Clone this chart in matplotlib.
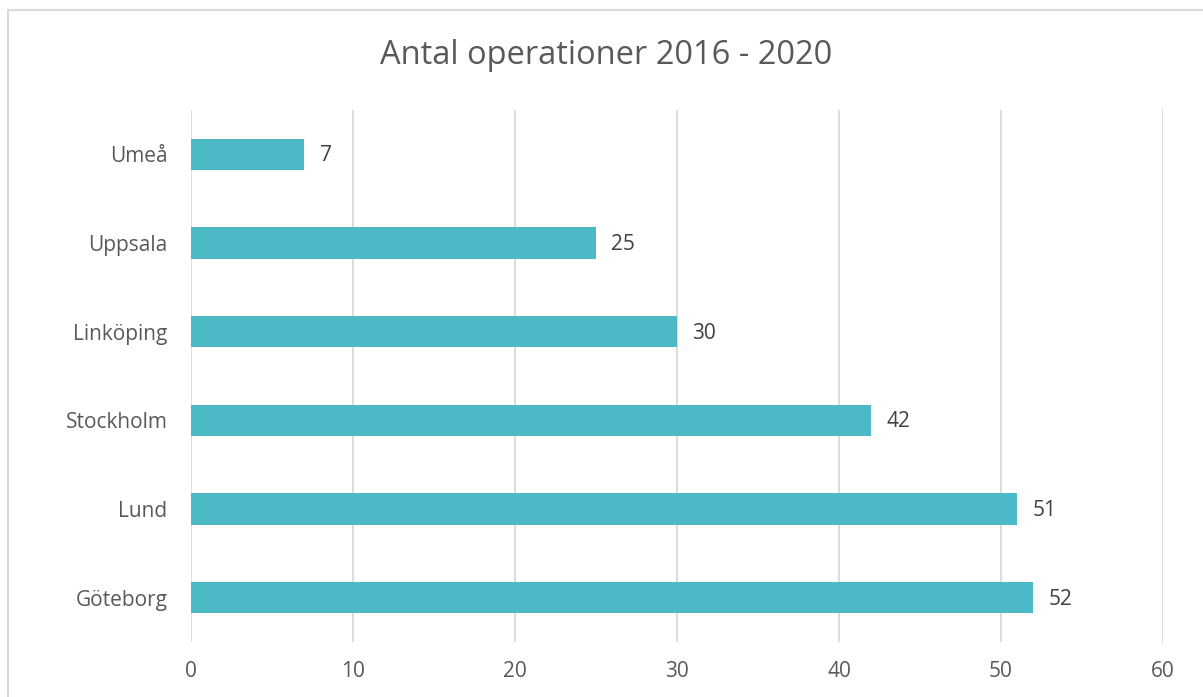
import matplotlib
matplotlib.use("Agg")
import matplotlib.pyplot as plt
from matplotlib.lines import Line2D

categories = ["Göteborg", "Lund", "Stockholm", "Linköping", "Uppsala", "Umeå"]
values = [52, 51, 42, 30, 25, 7]
xticks = [0, 10, 20, 30, 40, 50, 60]
title = "Antal operationer 2016 - 2020"

plt.rcParams['font.family'] = ['Open Sans', 'DejaVu Sans']

W, H = 1203, 697
fig = plt.figure(figsize=(W / 100, H / 100), dpi=100)
ax = fig.add_axes([191 / W, 1 - 642 / H, (1163 - 191) / W, (642 - 110) / H])

ypos = list(range(len(categories)))
ax.barh(ypos, values, height=0.35, color="#4BB9C6", zorder=3)
ax.set_xlim(0, 60)
ax.set_ylim(-0.5, len(categories) - 0.5)
ax.set_xticks(xticks)
ax.set_xticklabels([str(t) for t in xticks])
ax.set_yticks(ypos)
ax.set_yticklabels(categories)
ax.grid(axis="x", color="#D9D9D9", linewidth=1.3, zorder=0)
for s in ax.spines.values():
    s.set_visible(False)
ax.tick_params(axis="both", length=0, labelsize=15, colors="#595959")
ax.tick_params(axis="y", pad=17)
ax.tick_params(axis="x", pad=14)

for y, v in zip(ypos, values):
    ax.annotate(str(v), (v, y), xytext=(11, -1), textcoords="offset points",
                va="center", ha="left", fontsize=15, color="#404040")

fig.text(606 / W, 1 - 55 / H, title, ha="center", va="center", fontsize=23.5, color="#595959")

fig.add_artist(Line2D([8 / W, 8 / W], [0, 1 - 10 / H], color="#D9D9D9", linewidth=1.5, transform=fig.transFigure))
fig.add_artist(Line2D([8 / W, 1], [1 - 10 / H, 1 - 10 / H], color="#D9D9D9", linewidth=1.5, transform=fig.transFigure))

fig.savefig("out.png", dpi=100)
